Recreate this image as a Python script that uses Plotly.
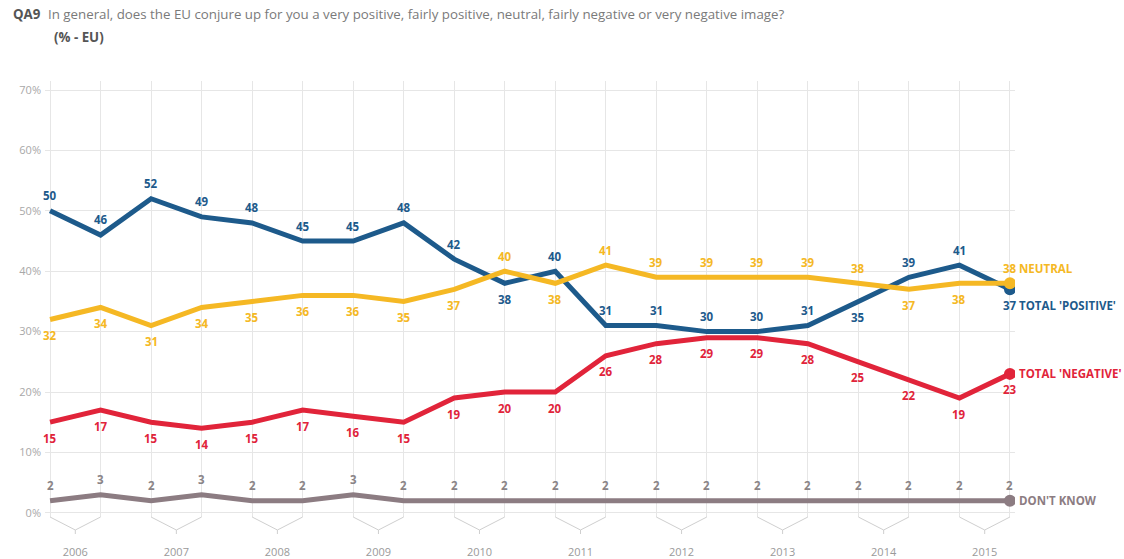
import plotly.graph_objects as go

years = ['2006', '2007', '2008', '2009', '2010', '2011', '2012', '2013', '2014', '2015']
positive = [50, 46, 52, 49, 48, 45, 45, 48, 42, 38, 40, 31, 31, 30, 30, 31, 35, 39, 41, 37]
neutral = [32, 34, 31, 34, 35, 36, 36, 35, 37, 40, 38, 41, 39, 39, 39, 39, 38, 37, 38, 38]
negative = [15, 17, 15, 14, 15, 17, 16, 15, 19, 20, 20, 26, 28, 29, 29, 28, 25, 22, 19, 23]
dont_know = [2, 3, 2, 3, 2, 2, 3, 2, 2, 2, 2, 2, 2, 2, 2, 2, 2, 2, 2, 2]

# label placement: 'a' above, 'b' below
pos_place = ['a'] * 9 + ['b', 'a', 'a', 'a', 'a', 'a', 'a', 'b', 'a', 'a', 'b']
neu_place = ['b'] * 9 + ['a', 'b', 'a', 'a', 'a', 'a', 'a', 'a', 'b', 'b', 'a']
neg_place = ['b'] * 20
dk_place = ['a'] * 20

ytick_vals = [0, 10, 20, 30, 40, 50, 60, 70]
ytick_text = ['0%', '10%', '20%', '30%', '40%', '50%', '60%', '70%']

FONT = 'Open Sans'
BLUE = '#1d5a8b'
YELLOW = '#f5b824'
RED = '#e1243a'
GREY = '#8c7c82'

n = len(positive)
xs = list(range(n))

series = [
    ("DON'T KNOW", dont_know, dk_place, GREY, '#8a8486', 0),
    ("TOTAL 'NEGATIVE'", negative, neg_place, RED, RED, 0),
    ("TOTAL 'POSITIVE'", positive, pos_place, BLUE, BLUE, -16),
    ("NEUTRAL", neutral, neu_place, YELLOW, YELLOW, 15),
]

fig = go.Figure()
annotations = []
for name, vals, place, col, lcol, name_shift in series:
    fig.add_trace(go.Scatter(x=xs, y=vals, mode='lines', line=dict(color=col, width=5),
                             name=name, showlegend=False, hoverinfo='skip'))
    fig.add_trace(go.Scatter(x=[xs[-1]], y=[vals[-1]], mode='markers',
                             marker=dict(color=col, size=12), showlegend=False, hoverinfo='skip'))
    for xi, v, p in zip(xs, vals, place):
        annotations.append(dict(x=xi, y=v, xref='x', yref='y', text='<b>%d</b>' % v,
                                showarrow=False, yshift=15 if p == 'a' else -16,
                                font=dict(family=FONT, size=11.5, color=lcol)))
    annotations.append(dict(x=xs[-1], y=vals[-1], xref='x', yref='y', text='<b>%s</b>' % name,
                            showarrow=False, xanchor='left', xshift=7, yshift=name_shift,
                            font=dict(family=FONT, size=11.5, color=col)))

W, H = 1124, 559
ml, mr, mt, mb = 45, 109, 81, 42
pw, ph = W - ml - mr, H - mt - mb


def px_x(p):
    return (p - ml) / pw


def px_y(p):
    return (H - mb - p) / ph


annotations.append(dict(x=px_x(11), y=px_y(14), xref='paper', yref='paper', xanchor='left', yanchor='middle',
                        text='<b>QA9</b>', showarrow=False, font=dict(family=FONT, size=13.3, color='#555555')))
annotations.append(dict(x=px_x(46), y=px_y(14), xref='paper', yref='paper', xanchor='left', yanchor='middle',
                        text='In general, does the EU conjure up for you a very positive, fairly positive, neutral, fairly negative or very negative image?',
                        showarrow=False, font=dict(family=FONT, size=13.3, color='#7a7a7a')))
annotations.append(dict(x=px_x(52), y=px_y(37), xref='paper', yref='paper', xanchor='left', yanchor='middle',
                        text='<b>(% - EU)</b>', showarrow=False, font=dict(family=FONT, size=13.3, color='#555555')))

# chevrons below the axis grouping each year's two points
shapes = []
y_top = 0.0
y_v = -13 / ph
y_t = -17 / ph
for k in range(len(years)):
    a, b = 2 * k, 2 * k + 1
    m = (a + b) / 2
    shapes.append(dict(type='path', xref='x', yref='paper',
                       path='M %f,%f L %f,%f L %f,%f' % (a, y_top, m, y_v, b, y_top),
                       line=dict(color='#cfcfcf', width=1)))
    shapes.append(dict(type='line', xref='x', yref='paper', x0=m, x1=m, y0=y_v, y1=y_t,
                       line=dict(color='#cfcfcf', width=1)))

fig.update_layout(
    width=W, height=H,
    margin=dict(l=ml, r=mr, t=mt, b=mb, autoexpand=False),
    paper_bgcolor='white', plot_bgcolor='white',
    annotations=annotations, shapes=shapes,
    font=dict(family=FONT),
    xaxis=dict(range=[-0.1, n - 1 + 0.1], tickvals=[2 * k + 0.5 for k in range(len(years))],
               ticktext=years, showgrid=False, zeroline=False, showline=False, ticks='',
               automargin=False,
               tickfont=dict(family=FONT, size=11, color='#9a9a9a'), ticklabelstandoff=27,
               minor=dict(tickmode='linear', tick0=0, dtick=1, showgrid=True, gridcolor='#e6e6e6', gridwidth=1)),
    yaxis=dict(range=[-0.7, 71.5], tickvals=ytick_vals, ticktext=ytick_text, showgrid=True,
               gridcolor='#e6e6e6', gridwidth=1, zeroline=False, showline=False, ticks='',
               automargin=False,
               tickfont=dict(family=FONT, size=11, color='#a8a8a8'), ticklabelstandoff=3),
)

fig.write_html('out.html', config={'displayModeBar': False},
               post_script="document.body.style.margin='0';document.body.style.overflow='hidden';")
